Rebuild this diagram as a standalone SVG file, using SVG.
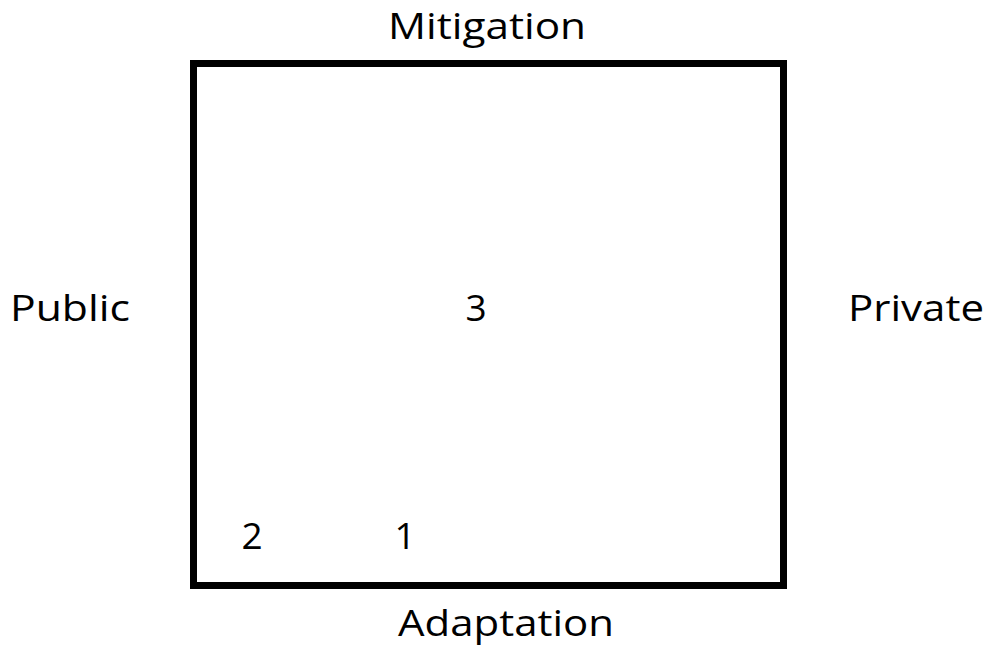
<svg xmlns="http://www.w3.org/2000/svg" width="985" height="646" viewBox="0 0 985 646">
  <style>
    .lbl { font-family: "Open Sans", "Noto Sans", "Liberation Sans", sans-serif; font-size: 37px; fill: #000; }
    .top { font-size: 36px; }
  </style>
  <rect width="985" height="646" fill="#fff"/>
  <g id="frame">
    <rect x="193.5" y="63.5" width="590" height="522" fill="none" stroke="#000" stroke-width="7"/>
  </g>
  <g id="axis-labels">
    <text class="lbl top" x="388" y="39" textLength="198" lengthAdjust="spacingAndGlyphs">Mitigation</text>
    <text class="lbl" x="398" y="636" textLength="216" lengthAdjust="spacingAndGlyphs">Adaptation</text>
    <text class="lbl" x="10" y="321" textLength="120" lengthAdjust="spacingAndGlyphs">Public</text>
    <text class="lbl" x="848" y="321" textLength="136" lengthAdjust="spacingAndGlyphs">Private</text>
  </g>
  <g id="points">
    <text class="lbl" x="476" y="321" text-anchor="middle">3</text>
    <text class="lbl" x="252" y="549" text-anchor="middle">2</text>
    <text class="lbl" x="405" y="549" text-anchor="middle">1</text>
  </g>
</svg>
